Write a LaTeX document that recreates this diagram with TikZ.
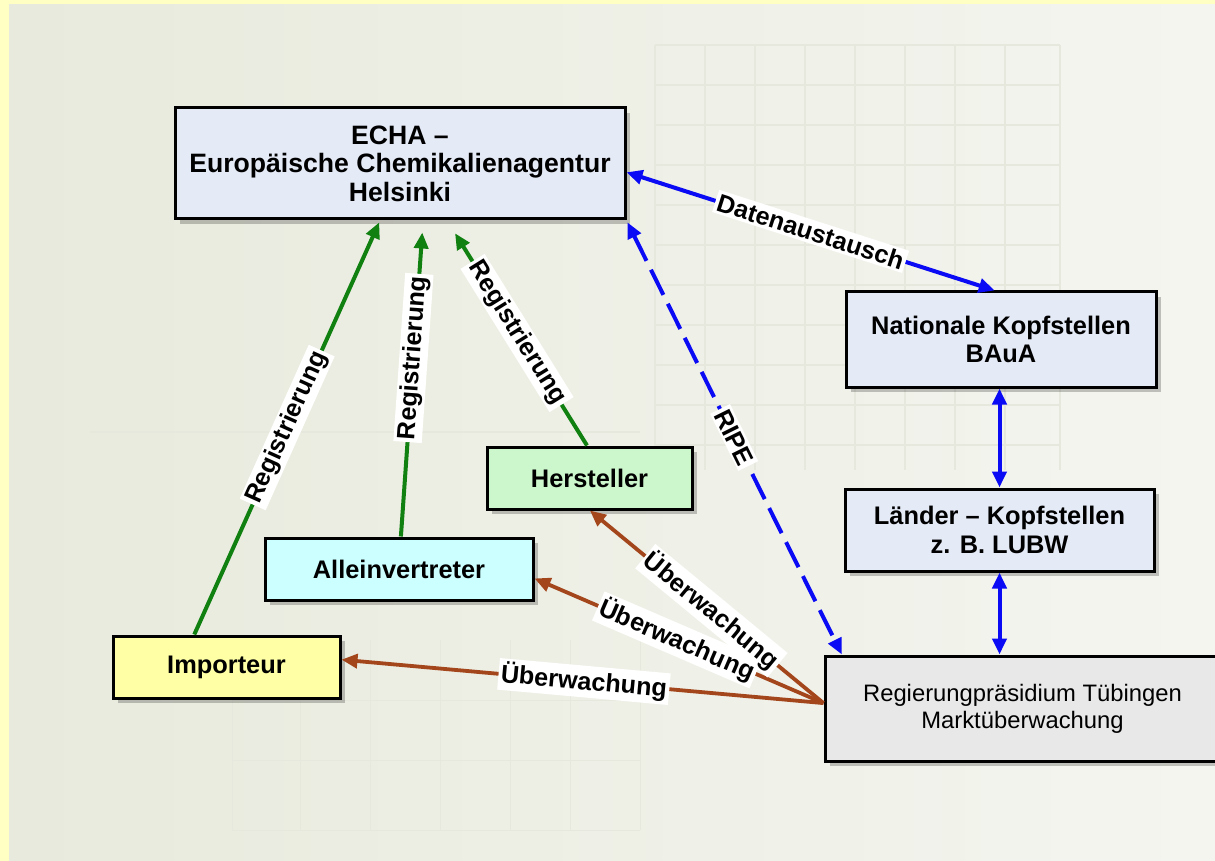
\documentclass[tikz,border=0pt]{standalone}
\usepackage{fontspec}
\setmainfont{Liberation Sans}
\usetikzlibrary{arrows.meta,calc,shadows}
\definecolor{bgyellow}{HTML}{FFFFC4}
\definecolor{bgleft}{HTML}{E8EADD}
\definecolor{bgright}{HTML}{F4F5EF}
\definecolor{echafill}{HTML}{E4EAF6}
\definecolor{herfill}{HTML}{CCF7CC}
\definecolor{allfill}{HTML}{CCFFFF}
\definecolor{impfill}{HTML}{FFFFA6}
\definecolor{regfill}{HTML}{E8E8E8}
\definecolor{reggreen}{HTML}{108010}
\definecolor{dablue}{HTML}{0A0AF5}
\definecolor{uebbrown}{HTML}{A3461C}
\definecolor{gridc}{HTML}{E6E8DE}
\tikzset{
  boxstyle/.style={draw=black, line width=1.5pt, align=center, inner sep=2pt,
    font=\fontsize{12.7}{14.2}\selectfont\bfseries,
    drop shadow={shadow xshift=2.5pt, shadow yshift=-2.5pt, opacity=0.22, fill=black}},
  lab/.style={fill=white, inner sep=1.2pt, sloped, font=\fontsize{12.6}{14}\selectfont\bfseries},
  tipA/.style={-{Triangle[length=8pt,width=7pt]}},
  tipB/.style={{Triangle[length=8pt,width=7pt]}-{Triangle[length=8pt,width=7pt]}},
  greenarrow/.style={tipA, draw=reggreen, line width=2pt},
  bluearrow/.style={tipB, draw=dablue, line width=2pt},
  brownarrow/.style={tipA, draw=uebbrown, line width=1.9pt},
}
\begin{document}
\begin{tikzpicture}[x=0.5pt,y=-0.5pt]
\useasboundingbox (0,0) rectangle (1215,861);
% background
\fill[bgyellow] (0,0) rectangle (1215,861);
\shade[left color=bgleft, right color=bgright] (9,5) rectangle (1215,861);
% faint decorative grid
\foreach \xx in {655,705,755,805,855,905,955,1005,1060}
  \draw[gridc, line width=0.7pt] (\xx,45) -- (\xx,470);
\foreach \yy in {45,85,125,165,205,245,285,325,365,405,445}
  \draw[gridc, line width=0.7pt] (655,\yy) -- (1060,\yy);
\draw[gridc, line width=0.7pt] (90,432) -- (640,432);
\foreach \xx in {232,300,370,440,510,570,640}
  \draw[gridc, line width=0.5pt] (\xx,640) -- (\xx,830);
\foreach \yy in {700,760,830}
  \draw[gridc, line width=0.5pt] (232,\yy) -- (640,\yy);

% nodes
\node[boxstyle, fill=echafill, minimum width=225pt, minimum height=55.5pt,
  font=\fontsize{13.3}{14.3}\selectfont\bfseries] (echa) at (400,163.5)
  {ECHA --\\Europäische Chemikalienagentur\\Helsinki};
\node[boxstyle, fill=echafill, minimum width=155pt, minimum height=47.5pt] (nat) at (1001,339.5)
  {Nationale Kopfstellen\\BAuA};
\node[boxstyle, fill=echafill, minimum width=154.5pt, minimum height=41pt] (lan) at (999.5,530)
  {Länder -- Kopfstellen\\z. B. LUBW};
\node[boxstyle, fill=herfill, minimum width=102.5pt, minimum height=31pt] (her) at (589.5,478)
  {Hersteller};
\node[boxstyle, fill=allfill, minimum width=134pt, minimum height=31pt] (all) at (399,569)
  {Alleinvertreter};
\node[boxstyle, fill=impfill, minimum width=113.5pt, minimum height=31pt] (imp) at (226.5,667)
  {Importeur};
\node[boxstyle, fill=regfill, minimum width=197.5pt, minimum height=52.5pt,
  font=\fontsize{11.9}{13.6}\selectfont] (reg) at (1022.5,708.5)
  {Regierungpräsidium Tübingen\\Marktüberwachung};

% Registrierung
\draw[greenarrow, shorten >=1pt]
  ($(imp.north west)!0.36!(imp.north east)$) --
  node[lab, pos=0.5] {Registrierung}
  ($(echa.south west)!0.456!(echa.south east)$);
\draw[greenarrow, shorten >=6pt]
  ($(all.north west)!0.507!(all.north east)$) --
  node[lab, pos=0.565] {Registrierung}
  ($(echa.south west)!0.551!(echa.south east)$);
\draw[greenarrow, shorten >=7.5pt]
  ($(her.north west)!0.488!(her.north east)$) --
  node[lab, pos=0.5] {Registrierung}
  ($(echa.south west)!0.604!(echa.south east)$);

% blue
\draw[bluearrow, dash pattern=on 14pt off 5pt, shorten <=1pt]
  (echa.south east) --
  node[lab, pos=0.5] {RIPE}
  ($(reg.north west)!0.046!(reg.north east)$);
\draw[bluearrow]
  ($(echa.north east)!0.577!(echa.south east)$) --
  node[lab, pos=0.5] {Datenaustausch}
  ($(nat.north west)!0.48!(nat.north east)$);
\draw[bluearrow] (lan.north) -- (lan.north |- nat.south);
\draw[bluearrow] (lan.south) -- (lan.south |- reg.north);

% Ueberwachung
\coordinate (rp) at ($(reg.north west)!0.45!(reg.south west)$);
\draw[brownarrow] (rp) -- node[lab, pos=0.497] {Überwachung}
  ($(imp.north east)!0.387!(imp.south east)$);
\draw[brownarrow] (rp) -- node[lab, pos=0.507] {Überwachung}
  ($(all.north east)!0.645!(all.south east)$);
\draw[brownarrow] (rp) -- node[lab, pos=0.48] {Überwachung}
  ($(her.south west)!0.502!(her.south east)$);
\end{tikzpicture}
\end{document}
